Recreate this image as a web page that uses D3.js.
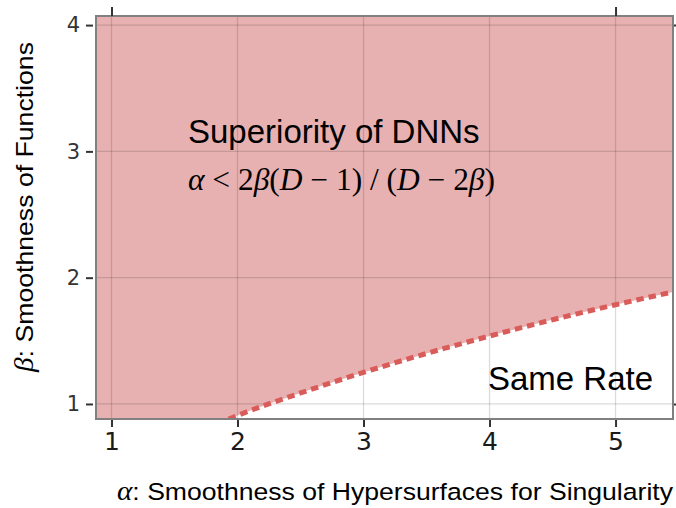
<!DOCTYPE html>
<html>
<head>
<meta charset="utf-8">
<script src="https://cdn.jsdelivr.net/npm/d3@7"></script>
<style>
  html, body { margin: 0; padding: 0; background: #fff; }
  svg { display: block; }
</style>
</head>
<body>
<svg id="chart" width="676" height="508"></svg>
<script>
// ---- data ----
const xDomain = [0.877, 5.456];
const yDomain = [0.881, 4.072];
const xTicks = [1, 2, 3, 4, 5];
const yTicks = [1, 2, 3, 4];
// boundary of the "Superiority of DNNs" region, alpha vs beta
const boundaryAlpha = [0.877, 1.93, 2.0, 2.5, 3.0, 3.5, 4.0, 4.5, 5.0, 5.456];
const boundaryBeta  = [0.881, 0.881, 0.909, 1.087, 1.25, 1.40, 1.538, 1.667, 1.786, 1.887];
const regionLabel = "Superiority of DNNs";
const otherLabel = "Same Rate";
const xTitle = ": Smoothness of Hypersurfaces for Singularity";
const yTitle = ": Smoothness of Functions";

const boundary = boundaryAlpha.map((a, i) => ({a, b: boundaryBeta[i]}));

const svg = d3.select("#chart");
const pL = 96, pR = 673, pT = 16, pB = 419;
const x = d3.scaleLinear().domain(xDomain).range([pL, pR]);
const y = d3.scaleLinear().domain(yDomain).range([pB, pT]);

svg.append("defs").append("clipPath").attr("id", "clip")
  .append("rect").attr("x", pL).attr("y", pT)
  .attr("width", pR - pL).attr("height", pB - pT);

svg.append("rect").attr("x", pL).attr("y", pT)
  .attr("width", pR - pL).attr("height", pB - pT).attr("fill", "#fff");

const plot = svg.append("g").attr("clip-path", "url(#clip)");

const area = d3.area()
  .x(d => x(d.a))
  .y0(y(yDomain[1]))
  .y1(d => y(d.b))
  .curve(d3.curveMonotoneX);
plot.append("path").datum(boundary).attr("d", area).attr("fill", "#e8b1b1");

plot.append("g").selectAll("line").data(xTicks).join("line")
  .attr("x1", d => x(d)).attr("x2", d => x(d))
  .attr("y1", pT).attr("y2", pB)
  .attr("stroke", "rgba(0,0,0,0.14)").attr("stroke-width", 1.3);
plot.append("g").selectAll("line").data(yTicks).join("line")
  .attr("y1", d => y(d)).attr("y2", d => y(d))
  .attr("x1", pL).attr("x2", pR)
  .attr("stroke", "rgba(0,0,0,0.14)").attr("stroke-width", 1.3);

const line = d3.line().x(d => x(d.a)).y(d => y(d.b)).curve(d3.curveMonotoneX);
plot.append("path").datum(boundary.slice(1)).attr("d", line)
  .attr("fill", "none").attr("stroke", "#d95c5b")
  .attr("stroke-width", 5).attr("stroke-dasharray", "7.5,5");

svg.append("rect").attr("x", pL).attr("y", pT)
  .attr("width", pR - pL).attr("height", pB - pT)
  .attr("fill", "none").attr("stroke", "#808080").attr("stroke-width", 2);

const xAxis = d3.axisBottom(x).tickValues(xTicks).tickSize(7).tickPadding(5).tickFormat(d3.format("d"));
const gx = svg.append("g").attr("transform", `translate(0,${pB + 1})`).call(xAxis);
gx.select(".domain").remove();
gx.selectAll(".tick line").attr("stroke", "#333").attr("stroke-width", 2);
gx.selectAll(".tick text").attr("font-family", "DejaVu Sans").attr("font-size", 25)
  .attr("fill", "#1a1a1a");

const yAxis = d3.axisLeft(y).tickValues(yTicks).tickSize(7).tickPadding(6).tickFormat(d3.format("d"));
const gy = svg.append("g").attr("transform", `translate(${pL - 3},0)`).call(yAxis);
gy.select(".domain").remove();
gy.selectAll(".tick line").attr("stroke", "#333").attr("stroke-width", 2);
gy.selectAll(".tick text").attr("font-family", "DejaVu Sans").attr("font-size", 21)
  .attr("fill", "#333");

const xTop = d3.axisTop(x).tickValues([1, 5]).tickSize(9).tickFormat("");
const gt = svg.append("g").attr("transform", `translate(0,${pT})`).call(xTop);
gt.select(".domain").remove();
gt.selectAll(".tick line").attr("stroke", "#333").attr("stroke-width", 2);
const yRight = d3.axisRight(y).tickValues([1, 4]).tickSize(7).tickFormat("");
const gr = svg.append("g").attr("transform", `translate(${pR + 1},0)`).call(yRight);
gr.select(".domain").remove();
gr.selectAll(".tick line").attr("stroke", "#333").attr("stroke-width", 2);

svg.append("text").attr("x", 188).attr("y", 143)
  .attr("font-family", "Liberation Sans, Arial, sans-serif").attr("font-size", 33)
  .attr("fill", "#000").text(regionLabel);

const f = svg.append("text").attr("x", 188).attr("y", 190)
  .attr("font-family", "Liberation Serif, Times New Roman, serif").attr("font-size", 31)
  .attr("fill", "#000");
const parts = [
  ["α", true], [" < 2", false], ["β", true], ["(", false], ["D", true],
  [" − 1) / (", false], ["D", true], [" − 2", false], ["β", true], [")", false]
];
parts.forEach(([t, it]) => f.append("tspan").attr("font-style", it ? "italic" : "normal").text(t));
f.attr("textLength", 307).attr("lengthAdjust", "spacingAndGlyphs");

svg.append("text").attr("x", 488).attr("y", 390)
  .attr("font-family", "Liberation Sans, Arial, sans-serif").attr("font-size", 33)
  .attr("fill", "#000").text(otherLabel);

const xt = svg.append("text").attr("x", 117).attr("y", 500)
  .attr("font-family", "Liberation Sans, Arial, sans-serif").attr("font-size", 24.5)
  .attr("fill", "#000");
xt.append("tspan").attr("font-family", "Liberation Serif, serif").attr("font-style", "italic")
  .attr("font-size", 27).text("α");
xt.append("tspan").text(xTitle);
xt.attr("textLength", 556).attr("lengthAdjust", "spacingAndGlyphs");

const yt = svg.append("text").attr("transform", "translate(33,372) rotate(-90)")
  .attr("font-family", "Liberation Sans, Arial, sans-serif").attr("font-size", 24.5)
  .attr("fill", "#000");
yt.append("tspan").attr("font-family", "Liberation Serif, serif").attr("font-style", "italic")
  .attr("font-size", 27).text("β");
yt.append("tspan").text(yTitle);
yt.attr("textLength", 330).attr("lengthAdjust", "spacingAndGlyphs");
</script>
</body>
</html>
